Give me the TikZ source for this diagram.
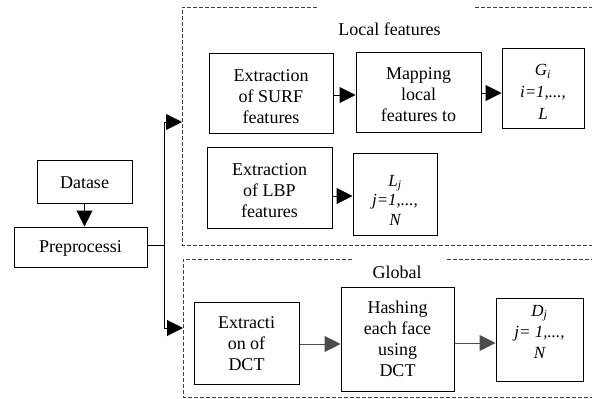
\documentclass[tikz,border=0pt]{standalone}
\usepackage{fontspec}
\setmainfont{Liberation Serif}
\newfontfamily\tms{Liberation Serif}
\usetikzlibrary{arrows.meta}
\begin{document}
\begin{tikzpicture}[x=1pt,y=-1pt,
  box/.style={draw, line width=1pt, inner sep=0pt},
  txt/.style={align=center, inner sep=0pt, font=\tms\fontsize{18}{21}\selectfont},
  itxt/.style={align=center, inner sep=0pt, font=\tms\fontsize{17}{21}\selectfont\itshape},
  arr/.style={line width=1pt, -{Triangle[length=16pt,width=16pt]}},
  ln/.style={line width=1pt},
  dbox/.style={draw=black!75, line width=0.8pt, dash pattern=on 4pt off 2pt},
  lab/.style={font=\tms\fontsize{18}{21}\selectfont, inner sep=0pt}]
\clip (0,0) rectangle (592,399);
% dashed regions
\draw[dbox] (317,7) -- (182,7) -- (182,245) -- (600,245);
\draw[dbox] (475,7) -- (600,7);
\draw[dbox] (352,259) -- (183,259) -- (183,397) -- (600,397);
\draw[dbox] (447,259) -- (600,259);
\node[lab] (loc) at (389.5,29) {Local features};
\node[lab] (glob) at (397,272) {Global};
% boxes
\node[box, minimum width=95pt, minimum height=43pt] (data) at (84.5,181.5) {};
\node[txt] (datat) at ([yshift=-1pt]data.center) {Datase};
\node[box, minimum width=133pt, minimum height=40pt] (prep) at (80.5,247) {};
\node[txt] (prept) at ([yshift=-1pt]prep.center) {Preprocessi};
\node[box, minimum width=124pt, minimum height=80pt] (surf) at (271,93) {};
\node[txt] (surft) at ([yshift=-4pt]surf.center) {Extraction\\of SURF\\features};
\node[box, minimum width=125pt, minimum height=81pt] (lbp) at (269.5,187.5) {};
\node[txt] (lbpt) at ([yshift=-3pt]lbp.center) {Extraction\\of LBP\\features};
\node[box, minimum width=125pt, minimum height=80pt] (map) at (418.5,92) {};
\node[txt] (mapt) at ([yshift=-3pt]map.center) {Mapping\\local\\features to};
\node[box, minimum width=82pt, minimum height=80pt] (g) at (543,88) {};
\node[itxt, font=\tms\fontsize{17}{22}\selectfont\itshape] (gt) at ([yshift=-4pt]g.center) {G\textsubscript{i}\\i=1,...,\\L};
\node[box, minimum width=84pt, minimum height=82pt] (lj) at (395,194) {};
\node[itxt, font=\tms\fontsize{17}{19.5}\selectfont\itshape] (ljt) at ([yshift=-6pt]lj.center) {L\textsubscript{j}\\j=1,...,\\N};
\node[box, minimum width=105pt, minimum height=82pt] (dct) at (246.5,343) {};
\node[txt] (dctt) at ([yshift=-1pt]dct.center) {Extracti\\on of\\DCT};
\node[box, minimum width=113pt, minimum height=104pt] (hash) at (397.5,339) {};
\node[txt] (hasht) at ([yshift=0pt]hash.center) {Hashing\\each face\\using\\DCT};
\node[box, minimum width=87pt, minimum height=83pt] (dj) at (539.5,339.5) {};
\node[itxt] (djt) at ([yshift=8pt]dj.center) {D\textsubscript{j}\\j= 1,...,\\N};
% connectors
\coordinate (j) at (164,245);
\coordinate (jt) at (164,122);
\coordinate (jb) at (164,328);
\coordinate (lin) at (182,122);
\coordinate (gin) at (183,328);
\draw[arr] (data.south) -- (prep.north -| data.south);
\draw[ln] (prep.east |- j) -- (j);
\draw[arr] (j) -- (jt) -- (lin);
\draw[arr] (j) -- (jb) -- (gin);
\draw[arr] (surf.east |- 0,95) -- (map.west |- 0,95);
\draw[arr] (map.east |- 0,93) -- (g.west |- 0,93);
\draw[arr] (lbp.east |- 0,196) -- (lj.west |- 0,196);
\draw[arr, draw=black!70] (dct.east |- 0,344) -- (hash.west |- 0,344);
\draw[arr, draw=black!70] (hash.east |- 0,343) -- (dj.west |- 0,343);
\end{tikzpicture}
\end{document}
